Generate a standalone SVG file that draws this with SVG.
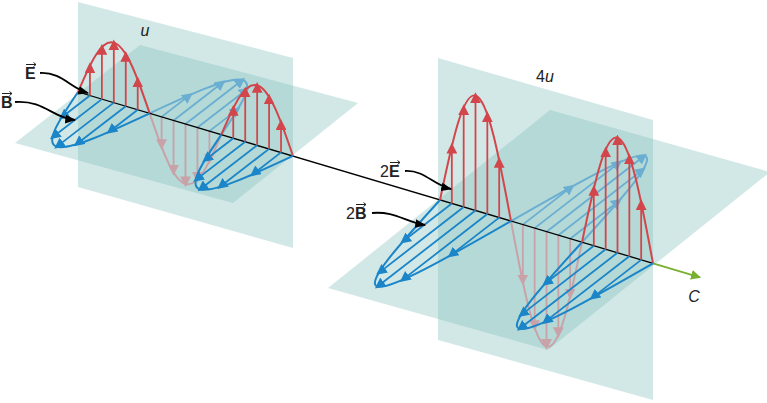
<svg xmlns="http://www.w3.org/2000/svg" width="767" height="403" viewBox="0 0 767 403">
<defs>
<style>
.pl{fill:#7fbcb9;fill-opacity:0.35}
.er{fill:none;stroke:#d2464b;stroke-width:2}
.ef{fill:none;stroke:#c9a2a8;stroke-width:2}
.br{fill:none;stroke:#1a85c8;stroke-width:2}
.bf{fill:none;stroke:#6aaed2;stroke-width:2}
.ev{stroke:#d2464b;stroke-width:1.8;marker-end:url(#mr)}
.evf{stroke:#c9a2a8;stroke-width:1.8;marker-end:url(#mrf)}
.bv{stroke:#1a85c8;stroke-width:1.8;marker-end:url(#mb)}
.bvf{stroke:#6aaed2;stroke-width:1.8;marker-end:url(#mbf)}
.lead{fill:none;stroke:#000;stroke-width:1.8;marker-end:url(#mk)}
.t{font-family:"Liberation Sans",Arial,sans-serif;font-size:16px;fill:#222}
.b{font-weight:bold}
.i{font-style:italic}
.va{stroke:#222;stroke-width:1;fill:none}
</style>
<marker id="mr" viewBox="0 0 10 10" refX="7" refY="5" markerWidth="6" markerHeight="6" orient="auto"><path d="M0,0L10,5L0,10z" fill="#d2464b"/></marker>
<marker id="mrf" viewBox="0 0 10 10" refX="7" refY="5" markerWidth="6" markerHeight="6" orient="auto"><path d="M0,0L10,5L0,10z" fill="#c9a2a8"/></marker>
<marker id="mb" viewBox="0 0 10 10" refX="7" refY="5" markerWidth="6" markerHeight="6" orient="auto"><path d="M0,0L10,5L0,10z" fill="#1a85c8"/></marker>
<marker id="mbf" viewBox="0 0 10 10" refX="7" refY="5" markerWidth="6" markerHeight="6" orient="auto"><path d="M0,0L10,5L0,10z" fill="#6aaed2"/></marker>
<marker id="mk" viewBox="0 0 10 10" refX="9" refY="5" markerWidth="6" markerHeight="6" orient="auto"><path d="M0,1L10,5L0,9z" fill="#000"/></marker>
<marker id="mg" viewBox="0 0 10 10" refX="9" refY="5" markerWidth="5" markerHeight="5" orient="auto"><path d="M0,0L10,5L0,10z" fill="#7ab030"/></marker>
</defs>

<g id="planes">
<polygon class="pl" points="78,2 293,58 293,248 78,187"/>
<polygon class="pl" points="15,143 140,45 358,103 233,203"/>
<polygon class="pl" points="438,58 653,120 653,400 438,340"/>
<polygon class="pl" points="328,288 550,110 770,172 548,350"/>
</g>

<g id="back-left">
<path class="ef" d="M149.66,113.32 C161.64,148.38 172.59,180.14 185.49,183.98 C198.39,187.82 209.34,162.57 221.32,134.64"/>
<line class="evf" x1="161.6" y1="116.87" x2="161.6" y2="146.87"/>
<line class="evf" x1="173.55" y1="120.43" x2="173.55" y2="172.39"/>
<line class="evf" x1="185.49" y1="123.98" x2="185.49" y2="183.98"/>
<line class="evf" x1="197.43" y1="127.53" x2="197.43" y2="179.49"/>
<line class="evf" x1="209.38" y1="131.09" x2="209.38" y2="161.09"/>
<path class="bf" d="M149.66,113.32 C191.57,93.78 229.59,76.14 242.49,79.98 C255.39,83.82 239.27,107.97 221.32,134.64"/>
<line class="bvf" x1="161.6" y1="116.87" x2="190.1" y2="94.87"/>
<line class="bvf" x1="173.55" y1="120.43" x2="222.91" y2="82.33"/>
<line class="bvf" x1="185.49" y1="123.98" x2="242.49" y2="79.98"/>
<line class="bvf" x1="197.43" y1="127.53" x2="246.79" y2="89.43"/>
<line class="bvf" x1="209.38" y1="131.09" x2="237.88" y2="109.09"/>
</g>

<g id="back-right">
<path class="ef" d="M511,221.12 C522.87,285.04 533.72,342.88 546.5,346.68 C559.28,350.48 570.13,299.1 582,242.24"/>
<line class="evf" x1="522.83" y1="224.64" x2="522.83" y2="282.14"/>
<line class="evf" x1="534.67" y1="228.16" x2="534.67" y2="327.76"/>
<line class="evf" x1="546.5" y1="231.68" x2="546.5" y2="346.68"/>
<line class="evf" x1="558.33" y1="235.2" x2="558.33" y2="334.8"/>
<line class="evf" x1="570.17" y1="238.72" x2="570.17" y2="296.22"/>
<path class="bf" d="M511,221.12 C574.33,184.74 631.72,151.88 644.5,155.68 C657.28,159.48 621.59,198.8 582,242.24"/>
<line class="bvf" x1="522.83" y1="224.64" x2="571.83" y2="186.64"/>
<line class="bvf" x1="534.67" y1="228.16" x2="619.54" y2="162.34"/>
<line class="bvf" x1="546.5" y1="231.68" x2="644.5" y2="155.68"/>
<line class="bvf" x1="558.33" y1="235.2" x2="643.2" y2="169.38"/>
<line class="bvf" x1="570.17" y1="238.72" x2="619.17" y2="200.72"/>
</g>

<g id="axis">
<line x1="78" y1="92" x2="653" y2="263.36" stroke="#000" stroke-width="1.3"/>
<line x1="653" y1="263.36" x2="700" y2="277.4" stroke="#7ab030" stroke-width="2" marker-end="url(#mg)"/>
</g>

<g id="front-left">
<path class="er" d="M78,92 C89.98,64.06 100.94,38.82 113.83,42.66 C126.73,46.5 137.68,78.26 149.66,113.32"/>
<path class="er" d="M221.32,134.64 C233.3,106.7 244.25,81.46 257.15,85.3 C270.05,89.14 281,120.9 292.98,155.96"/>
<line class="ev" x1="89.94" y1="95.55" x2="89.94" y2="65.55"/>
<line class="ev" x1="101.89" y1="99.11" x2="101.89" y2="47.15"/>
<line class="ev" x1="113.83" y1="102.66" x2="113.83" y2="42.66"/>
<line class="ev" x1="125.77" y1="106.21" x2="125.77" y2="54.25"/>
<line class="ev" x1="137.72" y1="109.77" x2="137.72" y2="79.77"/>
<line class="ev" x1="233.26" y1="138.19" x2="233.26" y2="108.19"/>
<line class="ev" x1="245.21" y1="141.75" x2="245.21" y2="89.79"/>
<line class="ev" x1="257.15" y1="145.3" x2="257.15" y2="85.3"/>
<line class="ev" x1="269.09" y1="148.85" x2="269.09" y2="96.89"/>
<line class="ev" x1="281.04" y1="152.41" x2="281.04" y2="122.41"/>
<path class="br" d="M78,92 C60.05,118.66 43.94,142.82 56.83,146.66 C69.73,150.5 107.75,132.86 149.66,113.32"/>
<path class="br" d="M221.32,134.64 C203.37,161.3 187.25,185.46 200.15,189.3 C213.05,193.14 251.07,175.5 292.98,155.96"/>
<line class="bv" x1="89.94" y1="95.55" x2="61.44" y2="117.55"/>
<line class="bv" x1="101.89" y1="99.11" x2="52.53" y2="137.21"/>
<line class="bv" x1="113.83" y1="102.66" x2="56.83" y2="146.66"/>
<line class="bv" x1="125.77" y1="106.21" x2="76.41" y2="144.31"/>
<line class="bv" x1="137.72" y1="109.77" x2="109.22" y2="131.77"/>
<line class="bv" x1="233.26" y1="138.19" x2="204.76" y2="160.19"/>
<line class="bv" x1="245.21" y1="141.75" x2="195.85" y2="179.85"/>
<line class="bv" x1="257.15" y1="145.3" x2="200.15" y2="189.3"/>
<line class="bv" x1="269.09" y1="148.85" x2="219.73" y2="186.95"/>
<line class="bv" x1="281.04" y1="152.41" x2="252.54" y2="174.41"/>
</g>

<g id="front-right">
<path class="er" d="M440,200 C451.87,143.14 462.72,91.76 475.5,95.56 C488.28,99.36 499.13,157.2 511,221.12"/>
<path class="er" d="M582,242.24 C593.87,185.38 604.72,134 617.5,137.8 C630.28,141.6 641.13,199.44 653,263.36"/>
<line class="ev" x1="451.83" y1="203.52" x2="451.83" y2="146.02"/>
<line class="ev" x1="463.67" y1="207.04" x2="463.67" y2="107.44"/>
<line class="ev" x1="475.5" y1="210.56" x2="475.5" y2="95.56"/>
<line class="ev" x1="487.33" y1="214.08" x2="487.33" y2="114.48"/>
<line class="ev" x1="499.17" y1="217.6" x2="499.17" y2="160.1"/>
<line class="ev" x1="593.83" y1="245.76" x2="593.83" y2="188.26"/>
<line class="ev" x1="605.67" y1="249.28" x2="605.67" y2="149.68"/>
<line class="ev" x1="617.5" y1="252.8" x2="617.5" y2="137.8"/>
<line class="ev" x1="629.33" y1="256.32" x2="629.33" y2="156.72"/>
<line class="ev" x1="641.17" y1="259.84" x2="641.17" y2="202.34"/>
<path class="br" d="M440,200 C400.41,243.44 364.72,282.76 377.5,286.56 C390.28,290.36 447.67,257.5 511,221.12"/>
<path class="br" d="M582,242.24 C542.41,285.68 506.72,325 519.5,328.8 C532.28,332.6 589.67,299.74 653,263.36"/>
<line class="bv" x1="451.83" y1="203.52" x2="402.83" y2="241.52"/>
<line class="bv" x1="463.67" y1="207.04" x2="378.8" y2="272.86"/>
<line class="bv" x1="475.5" y1="210.56" x2="377.5" y2="286.56"/>
<line class="bv" x1="487.33" y1="214.08" x2="402.46" y2="279.9"/>
<line class="bv" x1="499.17" y1="217.6" x2="450.17" y2="255.6"/>
<line class="bv" x1="593.83" y1="245.76" x2="544.83" y2="283.76"/>
<line class="bv" x1="605.67" y1="249.28" x2="520.8" y2="315.1"/>
<line class="bv" x1="617.5" y1="252.8" x2="519.5" y2="328.8"/>
<line class="bv" x1="629.33" y1="256.32" x2="544.46" y2="322.14"/>
<line class="bv" x1="641.17" y1="259.84" x2="592.17" y2="297.84"/>
</g>

<g id="connectors">
<path class="lead" d="M40,73 C62,72 70,88 88,93"/>
<path class="lead" d="M15,102 C45,100 52,118 75,120"/>
<path class="lead" d="M405,171 C425,170 433,185 451,189"/>
<path class="lead" d="M372,213 C395,211 405,222 425,225"/>
</g>

<g id="labels">
<text class="t i" x="145" y="36" text-anchor="middle">u</text>
<text class="t" x="545" y="82" text-anchor="middle">4<tspan class="i">u</tspan></text>
<text class="t i" x="694" y="302" text-anchor="middle">C</text>
<g id="label-E"><text class="t b" x="25" y="79">E</text><path class="va" d="M26,64.5H36M33.5,62.5L36,64.5L33.5,66.5"/></g>
<g id="label-B"><text class="t b" x="1" y="108">B</text><path class="va" d="M2,93.5H12M9.5,91.5L12,93.5L9.5,95.5"/></g>
<g id="label-2E"><text class="t" x="380" y="177">2<tspan class="b">E</tspan></text><path class="va" d="M390,162.5H400M397.5,160.5L400,162.5L397.5,164.5"/></g>
<g id="label-2B"><text class="t" x="346" y="219">2<tspan class="b">B</tspan></text><path class="va" d="M356,204.5H366M363.5,202.5L366,204.5L363.5,206.5"/></g>
</g>
</svg>
